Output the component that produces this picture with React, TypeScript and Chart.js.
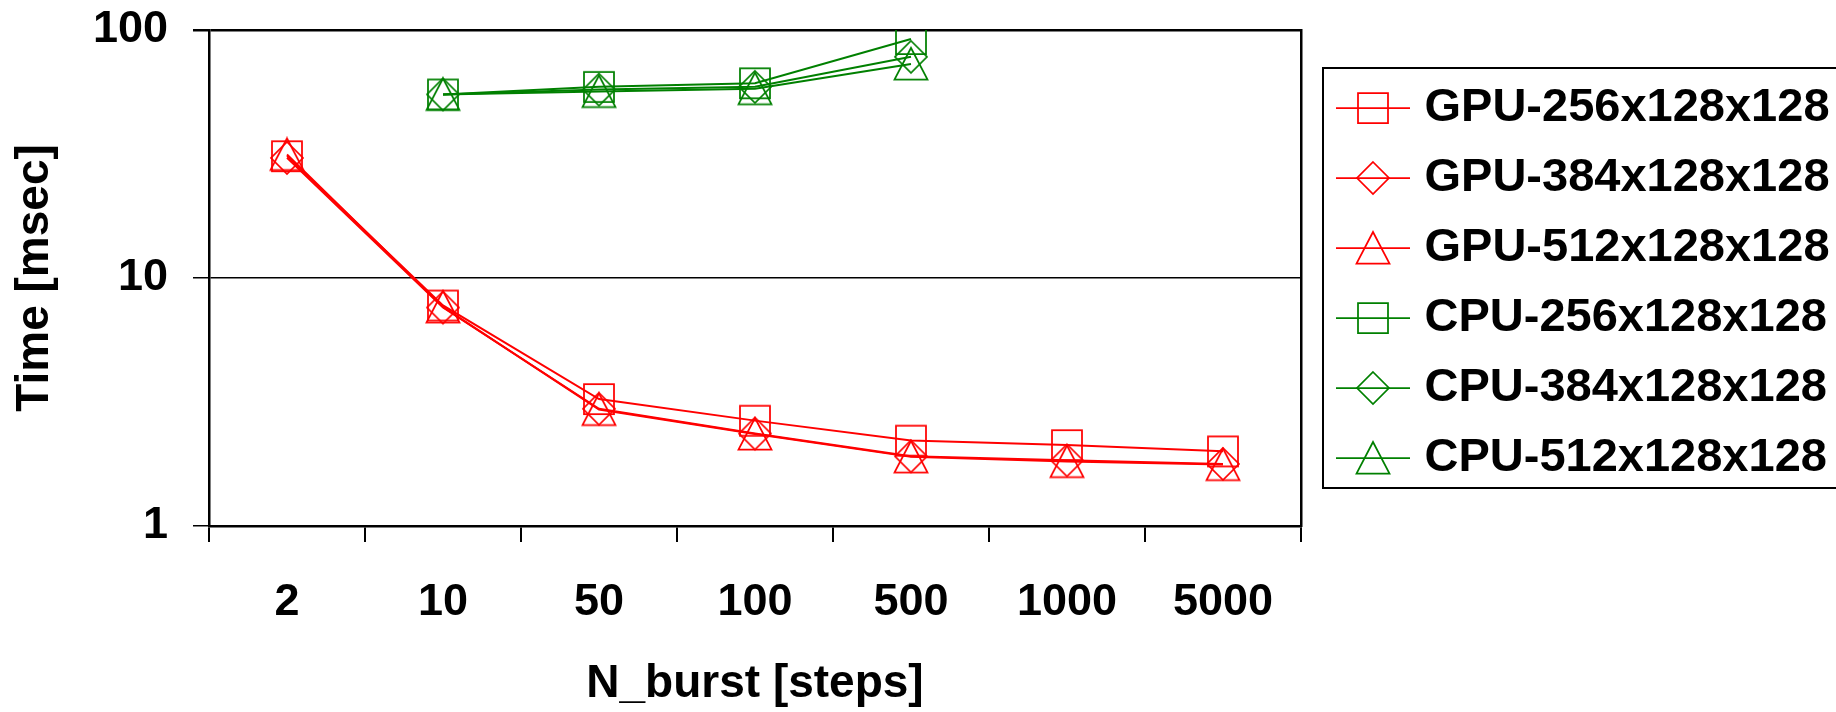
import React, { useEffect, useRef } from 'react';
import { Chart, registerables } from 'chart.js';

Chart.register(...registerables);

const categories = ['2', '10', '50', '100', '500', '1000', '5000'];
const seriesLabels = [
  'GPU-256x128x128',
  'GPU-384x128x128',
  'GPU-512x128x128',
  'CPU-256x128x128',
  'CPU-384x128x128',
  'CPU-512x128x128',
];
const gpu256 = [31, 7.75, 3.25, 2.66, 2.21, 2.12, 2.0];
const gpu384 = [30.5, 7.6, 2.97, 2.36, 1.91, 1.84, 1.78];
const gpu512 = [31.5, 7.65, 2.95, 2.35, 1.9, 1.82, 1.77];
const cpu256 = [null, 55, 59, 61, 92, null, null];
const cpu384 = [null, 55, 57.5, 59, 78, null, null];
const cpu512 = [null, 55, 56.5, 58, 73, null, null];
const yTicks = [1, 10, 100];

const RED = '#ff0000';
const GREEN = '#008000';
const FONT = "'Liberation Sans', Arial, Helvetica, sans-serif";

type Shape = 'square' | 'diamond' | 'triangle';

function makeMarker(shape: Shape, color: string, withLine: boolean): HTMLCanvasElement {
  const W = withLine ? 76 : 36;
  const H = 36;
  const c = document.createElement('canvas');
  c.width = W;
  c.height = H;
  const g = c.getContext('2d')!;
  g.strokeStyle = color;
  const cx = W / 2;
  const cy = H / 2;
  if (withLine) {
    g.lineWidth = 1.75;
    g.beginPath();
    g.moveTo(1, cy);
    g.lineTo(W - 1, cy);
    g.stroke();
  }
  g.lineWidth = 1.75;
  g.beginPath();
  if (shape === 'square') {
    g.rect(cx - 15, cy - 15, 30, 30);
  } else if (shape === 'diamond') {
    g.moveTo(cx, cy - 16);
    g.lineTo(cx + 16, cy);
    g.lineTo(cx, cy + 16);
    g.lineTo(cx - 16, cy);
    g.closePath();
  } else {
    g.moveTo(cx, cy - 16);
    g.lineTo(cx + 16.5, cy + 15.5);
    g.lineTo(cx - 16.5, cy + 15.5);
    g.closePath();
  }
  g.stroke();
  return c;
}

const LEG_FONT = 47;
const LEG_PAD = 23;

export default function App() {
  const ref = useRef<HTMLCanvasElement | null>(null);

  useEffect(() => {
    document.body.style.margin = '0';
    const canvas = ref.current;
    if (!canvas) return;

    const shapes: Shape[] = ['square', 'diamond', 'triangle', 'square', 'diamond', 'triangle'];
    const colors = [RED, RED, RED, GREEN, GREEN, GREEN];
    const values = [gpu256, gpu384, gpu512, cpu256, cpu384, cpu512];
    const pointImgs = shapes.map((s, i) => makeMarker(s, colors[i], false));
    const legendImgs = shapes.map((s, i) => makeMarker(s, colors[i], true));

    const legendFrame = {
      id: 'legendFrame',
      afterLayout(chart: any) {
        const lg = chart.legend;
        if (lg) {
          lg.top += 5;
          lg.bottom += 5;
        }
      },
      afterDraw(chart: any) {
        const lg = chart.legend;
        if (!lg) return;
        const n = seriesLabels.length;
        const colH = n * (LEG_FONT + LEG_PAD);
        const y0 = (lg.top + LEG_PAD + lg.bottom - colH) / 2;
        const top = y0 - 16.5;
        const bottom = y0 + (n - 1) * (LEG_FONT + LEG_PAD) + 53.5;
        const ctx = chart.ctx;
        ctx.save();
        ctx.strokeStyle = '#000';
        ctx.lineWidth = 2;
        ctx.strokeRect(lg.left + 1, top, 700, bottom - top);
        ctx.restore();
      },
    };

    const chart = new Chart(canvas, {
      type: 'line',
      data: {
        labels: categories,
        datasets: seriesLabels.map((label, i) => ({
          label,
          data: values[i] as any,
          borderColor: colors[i],
          backgroundColor: colors[i],
          borderWidth: 2,
          pointStyle: pointImgs[i] as any,
          pointRadius: 16,
          pointHoverRadius: 16,
          fill: false,
          tension: 0,
          spanGaps: false,
        })),
      },
      options: {
        responsive: false,
        animation: false,
        devicePixelRatio: 1,
        layout: { padding: { top: 30, left: 0, right: 0, bottom: 0 } },
        plugins: {
          tooltip: { enabled: false },
          legend: {
            position: 'right',
            align: 'center',
            fullSize: false,
            maxWidth: 514,
            labels: {
              usePointStyle: true,
              pointStyleWidth: 56,
              boxHeight: LEG_FONT,
              padding: LEG_PAD,
              color: '#000',
              font: { family: FONT, size: LEG_FONT, weight: 'bold' },
              generateLabels: (ch: any) => {
                const items = (Chart.defaults.plugins.legend.labels as any).generateLabels(ch);
                return items.map((it: any, i: number) => ({ ...it, pointStyle: legendImgs[i] }));
              },
            },
          } as any,
        },
        scales: {
          x: {
            type: 'category',
            offset: true,
            grid: {
              display: true,
              offset: true,
              drawOnChartArea: false,
              drawTicks: true,
              tickLength: 16,
              color: '#000',
              lineWidth: 2,
            },
            border: { display: true, color: '#000', width: 2.5 },
            ticks: {
              color: '#000',
              font: { family: FONT, size: 45, weight: 'bold' },
              padding: 34,
              autoSkip: false,
              maxRotation: 0,
              minRotation: 0,
            },
            title: {
              display: true,
              text: 'N_burst [steps]',
              color: '#000',
              font: { family: FONT, size: 46, weight: 'bold' },
              padding: { top: 0, bottom: 0 },
            },
            afterFit: (s: any) => {
              s.height = 186;
            },
          },
          y: {
            type: 'logarithmic',
            min: 1,
            max: 100,
            position: 'left',
            afterBuildTicks: (s: any) => {
              s.ticks = yTicks.map((v) => ({ value: v }));
            },
            grid: {
              display: true,
              drawTicks: true,
              tickLength: 16,
              color: '#000',
              lineWidth: (c: any) => (c.tick && c.tick.value === 100 ? 2.5 : 1.5),
            },
            border: { display: true, color: '#000', width: 2.5 },
            ticks: {
              color: '#000',
              font: { family: FONT, size: 45, weight: 'bold' },
              padding: 25,
              callback: (v: any) => String(v),
            },
            title: {
              display: true,
              text: 'Time [msec]',
              color: '#000',
              font: { family: FONT, size: 46, weight: 'bold' },
              padding: { top: 8, bottom: 0 },
            },
            afterFit: (s: any) => {
              s.width = 209;
              s.paddingTop = 0;
              s.paddingBottom = 0;
            },
          },
          y2: {
            type: 'linear',
            position: 'right',
            display: true,
            grid: { display: true, drawOnChartArea: false, drawTicks: false },
            ticks: { display: false },
            border: { display: true, color: '#000', width: 2.5 },
            afterFit: (s: any) => {
              s.width = 21;
              s.paddingTop = 0;
              s.paddingBottom = 0;
            },
          },
        },
      },
      plugins: [legendFrame],
    });

    return () => {
      chart.destroy();
    };
  }, []);

  return (
    <div style={{ width: 1836, height: 712, background: '#fff' }}>
      <canvas ref={ref} width={1836} height={712} style={{ display: 'block' }} />
    </div>
  );
}
